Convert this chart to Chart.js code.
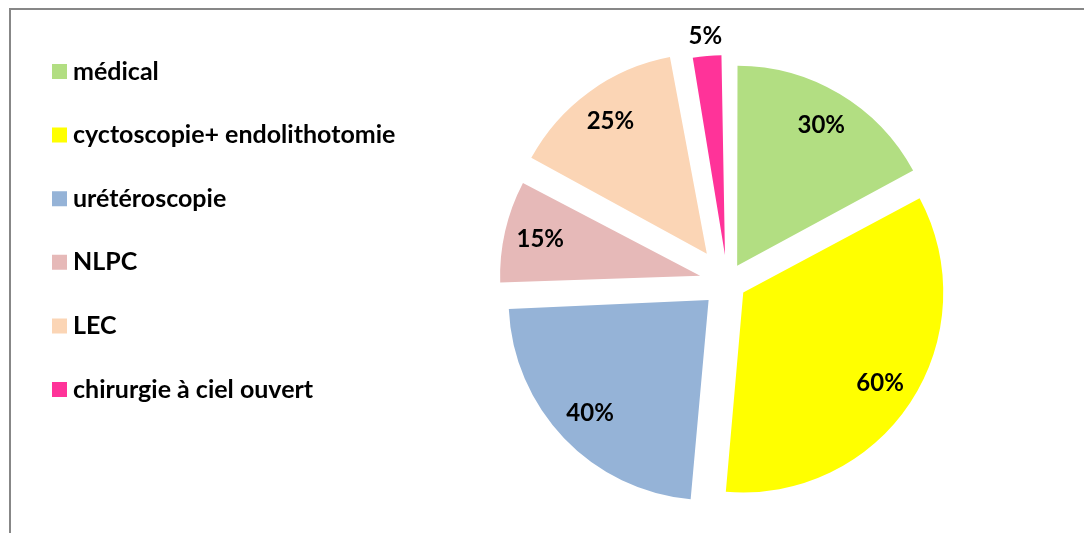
<!DOCTYPE html>
<html>
<head>
<meta charset="utf-8">
<script src="https://cdn.jsdelivr.net/npm/chart.js@4"></script>
<style>
  body { margin: 0; background: #fff; overflow: hidden; }
  #frame {
    position: absolute; left: 9px; top: 8px; width: 1200px; height: 700px;
    border-left: 2px solid #878787; border-top: 2px solid #878787;
  }
  #pie { position: absolute; left: 0; top: 0; }
</style>
</head>
<body>
<div id="frame"></div>
<canvas id="pie" width="1084" height="560"></canvas>
<script>
// traitement des calculs - répartition
const categories = ['médical', 'cyctoscopie+ endolithotomie', 'urétéroscopie', 'NLPC', 'LEC', 'chirurgie à ciel ouvert'];
const values = [30, 60, 40, 15, 25, 5];
const sliceColors = ['#b2de82', '#ffff00', '#95b3d7', '#e6b9b8', '#fbd5b5', '#ff3399'];
// how far each slice is pulled out, in px
const explode = [19, 19, 26, 28, 35, 27];

const FONT = "'Lato', 'Liberation Sans', sans-serif";
const LEGEND_SIZE = 25;
const RADIUS = 200;
const PIE_CX = 727.4, PIE_CY = 282;
const CANVAS_W = 1084, CANVAS_H = 560;

// legend squares: tiny box + thick stroke so the label sits close to the square
const BOX = 2, BOX_STROKE = 13, LEG_PAD = 38.6, LEG_LEFT = 19.9;
const PAD_TOP = 20.4;

// width of the legend column so the pie can be centred where we want it
const measure = document.createElement('canvas').getContext('2d');
measure.font = 'bold ' + LEGEND_SIZE + 'px ' + FONT;
const textW = Math.max(...categories.map(c => measure.measureText(c).width));
const legendW = LEG_PAD + BOX + LEGEND_SIZE / 2 + textW + 10;
const padRight = LEG_LEFT + legendW + CANVAS_W - 2 * PIE_CX;
const padBottom = CANVAS_H - (2 * PIE_CY - PAD_TOP);

// keep every exploded slice at the same radius (chart.js grows narrow slices by their offset)
const evenRadius = {
  id: 'evenRadius',
  beforeDatasetsDraw(chart) {
    chart.getDatasetMeta(0).data.forEach(arc => {
      const t = (arc.options.offset || 0) / 4;
      const fix = 1 - Math.sin(Math.min(Math.PI, arc.circumference));
      arc.outerRadius = RADIUS - t * fix;
    });
  }
};

// value labels "30%" etc. inside the slices, outside for the tiny one
const sliceLabels = {
  id: 'sliceLabels',
  afterDatasetsDraw(chart) {
    const ctx = chart.ctx;
    const meta = chart.getDatasetMeta(0);
    ctx.save();
    ctx.font = 'bold 24px ' + FONT;
    ctx.fillStyle = '#000';
    ctx.textAlign = 'center';
    ctx.textBaseline = 'middle';
    meta.data.forEach((arc, i) => {
      const mid = (arc.startAngle + arc.endAngle) / 2;
      const t = (arc.options.offset || 0) / 4;
      const r = values[i] < 10 ? RADIUS * 1.1 : RADIUS * 0.82;
      const x = arc.x + Math.cos(mid) * (t + r);
      const y = arc.y + Math.sin(mid) * (t + r);
      ctx.fillText(values[i] + '%', x, y);
    });
    ctx.restore();
  }
};

new Chart(document.getElementById('pie').getContext('2d'), {
  type: 'pie',
  data: {
    labels: categories,
    datasets: [{
      data: values,
      backgroundColor: sliceColors,
      borderWidth: 0,
      offset: explode.map(px => px * 4), // arc offset is applied / 4
      hoverOffset: 0
    }]
  },
  options: {
    responsive: false,
    animation: false,
    radius: RADIUS,
    layout: { padding: { left: LEG_LEFT, top: PAD_TOP, right: padRight, bottom: padBottom } },
    plugins: {
      tooltip: { enabled: false },
      legend: {
        position: 'left',
        align: 'start',
        labels: {
          boxWidth: BOX,
          boxHeight: BOX,
          padding: LEG_PAD,
          color: '#000',
          font: { family: FONT, size: LEGEND_SIZE, weight: 'bold' },
          generateLabels(chart) {
            const base = Chart.overrides.doughnut.plugins.legend.labels.generateLabels(chart);
            return base.map(item => Object.assign(item, {
              strokeStyle: item.fillStyle,
              lineWidth: BOX_STROKE,
              lineJoin: 'miter'
            }));
          }
        }
      }
    }
  },
  plugins: [evenRadius, sliceLabels]
});
</script>
</body>
</html>
